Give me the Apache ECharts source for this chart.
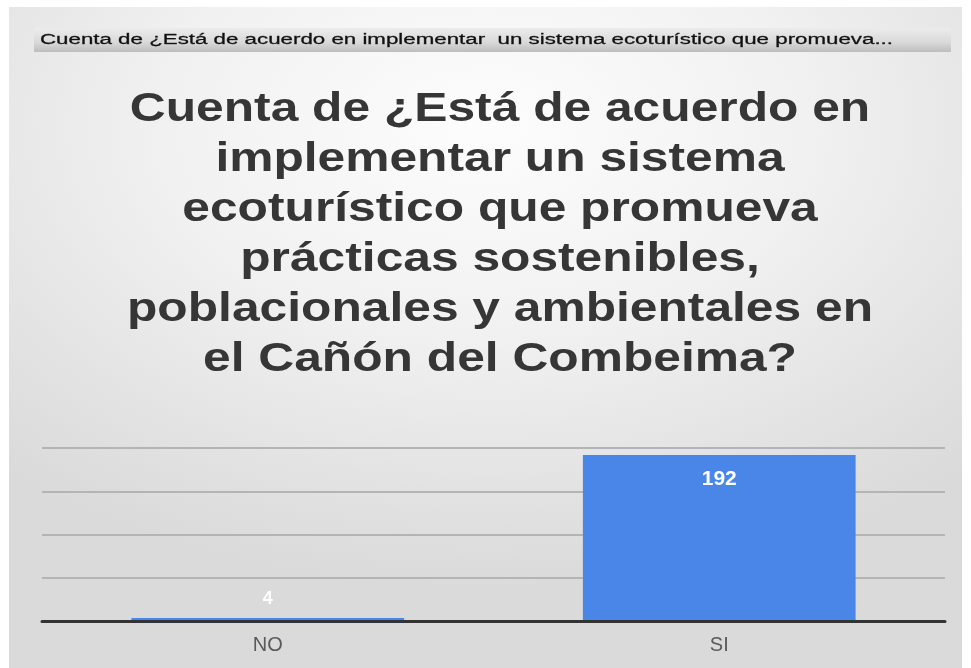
<!DOCTYPE html>
<html>
<head>
<meta charset="utf-8">
<script src="https://cdn.jsdelivr.net/npm/echarts@6/dist/echarts.min.js"></script>
<style>
html,body{margin:0;padding:0;background:#fff;width:971px;height:668px;overflow:hidden;}
#panel{position:absolute;left:9px;top:7px;width:953px;height:661px;
background:radial-gradient(ellipse 75% 70% at 50% 18%, #fdfdfd 0%, #f1f1f1 45%, #e2e2e2 80%, #dadada 100%);}
#chart{position:absolute;left:0;top:0;width:971px;height:668px;}
</style>
</head>
<body>
<div id="panel"></div>
<div id="chart"></div>
<script>
const categories = ['NO', 'SI'];
const counts = [4, 192];
const yTicks = [0, 50, 100, 150, 200];
const headerText = 'Cuenta de ¿Está de acuerdo en implementar  un sistema ecoturístico que promueva...';
const titleLines = [
  'Cuenta de ¿Está de acuerdo en',
  'implementar un sistema',
  'ecoturístico que promueva',
  'prácticas sostenibles,',
  'poblacionales y ambientales en',
  'el Cañón del Combeima?'
];

function measure(text, font) {
  const c = document.createElement('canvas').getContext('2d');
  c.font = font;
  return c.measureText(text).width;
}
const titleFont = 'bold 40px "Liberation Sans", Arial, sans-serif';
const titleScale = 746 / measure(titleLines[4], titleFont);
const headerFont = '14px "Liberation Sans", Arial, sans-serif';
const headerScale = 853 / measure(headerText, headerFont);

const chart = echarts.init(document.getElementById('chart'));
chart.setOption({
  backgroundColor: 'transparent',
  animation: false,
  graphic: [
    {
      type: 'rect', left: 34, top: 28, z: 0,
      shape: { width: 917, height: 24 },
      style: {
        fill: new echarts.graphic.LinearGradient(0, 0, 0, 1, [
          { offset: 0, color: '#ececec' },
          { offset: 0.6, color: '#d9d9d9' },
          { offset: 1, color: '#bdbdbd' }
        ])
      }
    },
    {
      type: 'text', x: 40, y: 40, scaleX: headerScale, z: 5,
      style: {
        text: headerText, font: headerFont, fill: '#111',
        textAlign: 'left', textVerticalAlign: 'middle',
        stroke: '#333', lineWidth: 0.3
      }
    },
    {
      type: 'text', x: 500, y: 85, scaleX: titleScale, z: 5,
      style: {
        text: titleLines.join('\n'), font: titleFont, fill: '#363636',
        lineHeight: 50, textAlign: 'center', textVerticalAlign: 'top'
      }
    }
  ],
  grid: { left: 42, right: 26, top: 448, bottom: 46.5 },
  xAxis: {
    type: 'category',
    data: categories,
    z: 10,
    axisLine: { show: true, lineStyle: { color: '#333', width: 3 } },
    axisTick: { show: false },
    axisLabel: { color: '#5a5a5a', fontSize: 20, margin: 14, fontFamily: '"Liberation Sans", Arial, sans-serif' }
  },
  yAxis: {
    type: 'value',
    min: yTicks[0], max: yTicks[yTicks.length - 1], interval: yTicks[1] - yTicks[0],
    axisLabel: { show: false },
    axisLine: { show: false },
    axisTick: { show: false },
    splitLine: { lineStyle: { color: '#b4b4b4', width: 2 } }
  },
  series: [{
    type: 'bar',
    barWidth: '60.4%',
    data: counts.map((v, i) => ({
      value: v,
      label: i === 0
        ? { show: true, position: 'top', distance: 10, fontSize: 18 }
        : { show: true, position: 'insideTop', distance: 14, fontSize: 21 }
    })),
    itemStyle: { color: '#4a86e8' },
    label: { show: true, color: '#ffffff', fontWeight: 'bold', fontFamily: '"Liberation Sans", Arial, sans-serif' }
  }]
});
</script>
</body>
</html>
